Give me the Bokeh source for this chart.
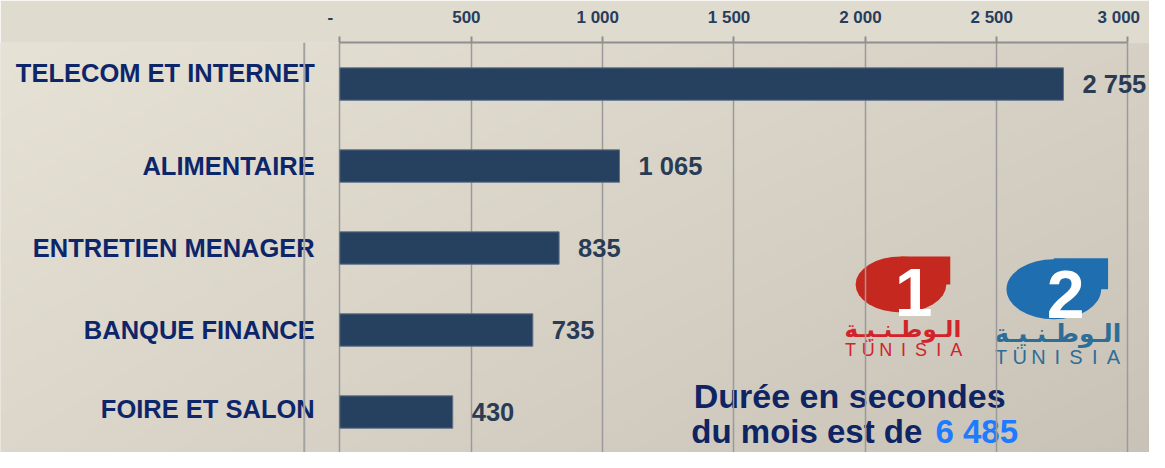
import numpy as np
from bokeh.plotting import figure
from bokeh.models import ColumnDataSource, Range1d, FixedTicker, Span
from bokeh.core.properties import value
from bokeh.embed import file_html
from bokeh.resources import INLINE

# ---------------- data ----------------
categories = ["TELECOM ET INTERNET", "ALIMENTAIRE", "ENTRETIEN MENAGER",
              "BANQUE FINANCE", "FOIRE ET SALON"]
durations = [2755, 1065, 835, 735, 430]
tick_values = [0, 500, 1000, 1500, 2000, 2500, 3000]
tick_labels = ["-", "500", "1 000", "1 500", "2 000", "2 500", "3 000"]
total_label = "6 485"
title_line1 = "Durée en secondes"
title_line2 = "du mois est de "

# ---------------- layout (reference pixels -> data units) ----------------
W, H = 1149, 452
SX, SY = W / 1165.0, H / 468.0
TOP = 42

def fx(px):   # reference x pixel -> data x
    return (px - 344.0) * 3000.0 / 799.0

def fy(py):   # reference y pixel -> data y (row index, negative downwards)
    return -(py - 86.5) / 84.9

label_nudge = [-11 * SY, 0, 0, 0, -3 * SY]

src = ColumnDataSource(dict(
    y=[-i for i in range(len(categories))],
    value=durations,
    cat=categories,
    vlabel=[f"{v:,}".replace(",", " ") for v in durations],
    nudge=label_nudge,
))

x_start, x_end = fx(0), fx(1165)
y_bottom, y_top = fy(468), fy(TOP / SY)

p = figure(width=W, height=H, output_backend="svg", toolbar_location=None,
           x_range=Range1d(x_start, x_end), y_range=Range1d(y_bottom, y_top),
           x_axis_location="above", y_axis_location=None,
           min_border=0, min_border_left=0, min_border_right=0,
           min_border_bottom=0, min_border_top=TOP,
           background_fill_color="#dcd6ca", border_fill_color="#e0dbcf")
p.outline_line_color = None

# background gradient
gh, gw = 120, 240
tl = np.array([231, 226, 214]); tr = np.array([215, 209, 197])
bl = np.array([221, 215, 203]); br = np.array([201, 195, 183])
u = np.linspace(0, 1, gw)[None, :, None]
v = np.linspace(0, 1, gh)[:, None, None]  # 0 = bottom row
col = (bl * (1 - u) * (1 - v) + br * u * (1 - v) + tl * (1 - u) * v + tr * u * v)
rgba = np.zeros((gh, gw, 4), dtype=np.uint8)
rgba[..., :3] = col.astype(np.uint8)
rgba[..., 3] = 255
img = rgba.view(dtype=np.uint32).reshape(gh, gw)
p.image_rgba(image=[img], x=x_start, y=y_bottom, dw=x_end - x_start,
             dh=y_top - y_bottom, level="image")

# ---------------- logos (decoration) ----------------
FONT = value("Liberation Sans")
red, blue = "#c5281e", "#1f6fb0"
p.ellipse(x=fx(913), y=fy(294), width=92 * SX, height=58 * SY,
          width_units="screen", height_units="screen",
          fill_color=red, line_color=None, level="image")
p.quad(left=fx(913), right=fx(963), top=fy(265), bottom=fy(294),
       fill_color=red, line_color=None, level="image")
p.text(x=fx(926), y=fy(302), text=["1"], text_align="center",
       text_baseline="middle", text_font=FONT, text_font_style="bold",
       text_font_size="68px", text_color="white", level="image")
p.text(x=fx(915), y=fy(340), text=["الـوطـنـيـة"], text_align="center",
       text_baseline="middle", text_font=value("DejaVu Sans"), text_font_style="bold",
       text_font_size="23px", text_color="#d2232a", level="image")

p.ellipse(x=fx(1068), y=fy(299), width=96 * SX, height=62 * SY,
          width_units="screen", height_units="screen",
          fill_color=blue, line_color=None, level="image")
p.quad(left=fx(1068), right=fx(1123), top=fy(267), bottom=fy(299),
       fill_color=blue, line_color=None, level="image")
p.text(x=fx(1080), y=fy(304), text=["2"], text_align="center",
       text_baseline="middle", text_font=FONT, text_font_style="bold",
       text_font_size="68px", text_color="white", level="image")
p.text(x=fx(1072), y=fy(345), text=["الـوطـنـيـة"], text_align="center",
       text_baseline="middle", text_font=value("DejaVu Sans"), text_font_style="bold",
       text_font_size="25px", text_color="#2d6e98", level="image")

word = "TÜNISIA"
for k, ch in enumerate(word):
    p.text(x=fx(853 + (k + 0.5) * 125 / 7), y=fy(362), text=[ch],
           text_align="center", text_baseline="middle", text_font=FONT,
           text_font_size="18px", text_color="#d2232a", level="image")
    p.text(x=fx(1005 + (k + 0.5) * 133 / 7), y=fy(369), text=[ch],
           text_align="center", text_baseline="middle", text_font=FONT,
           text_font_size="20px", text_color="#2d6e98", level="image")

# ---------------- bottom caption ----------------
navy = "#0f2463"
p.text(x=fx(861), y=fy(409), text=[title_line1], text_align="center",
       text_baseline="middle", text_font=FONT, text_font_style="bold",
       text_font_size="34px", text_color=navy, level="image")
p.text(x=fx(944), y=fy(446), text=[title_line2], text_align="right",
       text_baseline="middle", text_font=FONT, text_font_style="bold",
       text_font_size="33px", text_color=navy, level="image")
p.text(x=fx(948), y=fy(446), text=[total_label], text_align="left",
       text_baseline="middle", text_font=FONT, text_font_style="bold",
       text_font_size="33px", text_color="#1e7bff", level="image")

# ---------------- bars & labels ----------------
p.hbar(y="y", left=0, right="value", height=33.5 / 84.9, source=src,
       fill_color="#26405f", line_color="#5f7088", line_width=1)

p.text(x="value", y="y", text="vlabel", source=src, x_offset=19,
       text_align="left", text_baseline="middle", text_font=FONT,
       text_font_style="bold", text_font_size="25.5px", text_color="#2a3b54")

p.text(x=0, y="y", text="cat", source=src, x_offset=-25, y_offset="nudge",
       text_align="right", text_baseline="middle", text_font=FONT,
       text_font_style="bold", text_font_size="25.5px", text_color="#0d266a")

# slide border line
p.add_layout(Span(location=fx(308), dimension="height",
                  line_color="#a2a2a2", line_width=2))

# ---------------- axis & grid ----------------
ax = p.xaxis[0]
ax.ticker = FixedTicker(ticks=tick_values)
ax.bounds = (0, 3000)
ax.major_label_overrides = {t: (lab + "\u00a0\u00a0\u00a0\u00a0" if t == 0 else lab + "\u00a0\u00a0")
                            for t, lab in zip(tick_values, tick_labels)}
ax.axis_line_color = "#8f8f8f"
ax.axis_line_width = 2
ax.major_tick_in = 0
ax.major_tick_out = 6
ax.major_tick_line_color = "#8f8f8f"
ax.major_tick_line_width = 2
ax.minor_tick_line_color = None
ax.major_label_standoff = 10
ax.major_label_text_font = "Liberation Sans"
ax.major_label_text_font_style = "bold"
ax.major_label_text_font_size = "17px"
ax.major_label_text_color = "#283d5c"

p.xgrid.ticker = FixedTicker(ticks=tick_values)
p.xgrid.grid_line_color = "#9a9a9a"
p.xgrid.grid_line_width = 1.5
p.ygrid.visible = False

open("out.html", "w").write(file_html(p, INLINE))
